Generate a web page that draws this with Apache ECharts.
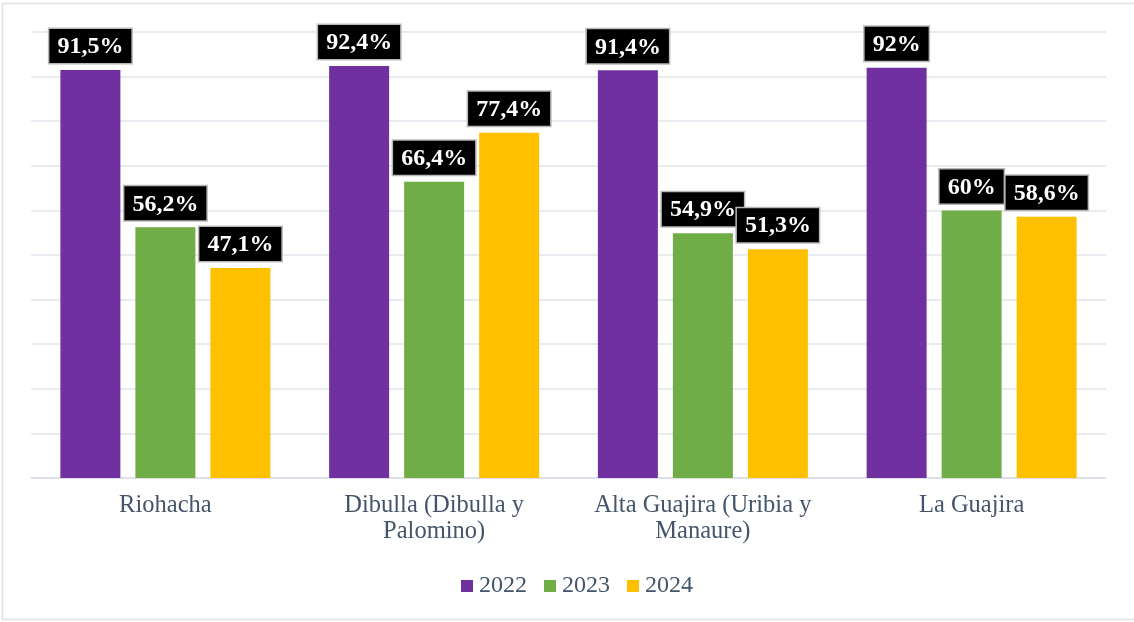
<!DOCTYPE html>
<html>
<head>
<meta charset="utf-8">
<script src="https://cdn.jsdelivr.net/npm/echarts@6/dist/echarts.min.js"></script>
<style>
  html, body { margin: 0; padding: 0; background: #ffffff; }
  #chart { width: 1134px; height: 622px; }
</style>
</head>
<body>
<div id="chart"></div>
<script>
// Municipalities (x-axis categories)
const categories = [
  'Riohacha',
  'Dibulla (Dibulla y\nPalomino)',
  'Alta Guajira (Uribia y\nManaure)',
  'La Guajira'
];
// Yearly percentages per municipality
const years = ['2022', '2023', '2024'];
const values2022 = [91.5, 92.4, 91.4, 92];
const values2023 = [56.2, 66.4, 54.9, 60];
const values2024 = [47.1, 77.4, 51.3, 58.6];
const colors = ['#7030a0', '#70ad47', '#ffc000'];

const serif = '"Liberation Serif", "Times New Roman", serif';
const textColor = '#44546a';

function fmt(v) {
  return String(v).replace('.', ',') + '%';
}

const seriesData = [values2022, values2023, values2024];

const chart = echarts.init(document.getElementById('chart'));
chart.setOption({
  animation: false,
  backgroundColor: '#ffffff',
  graphic: [{
    type: 'rect',
    shape: { x: 2.5, y: 3.5, width: 1140, height: 616 },
    style: { fill: 'none', stroke: '#dde2e9', lineWidth: 1.5 },
    silent: true,
    z: -1
  }],
  grid: { left: 31, right: 28, top: 32, bottom: 144 },
  legend: {
    data: years,
    top: 569,
    left: 456,
    itemWidth: 12,
    itemHeight: 12,
    itemGap: 17,
    icon: 'rect',
    textStyle: { fontFamily: serif, fontSize: 24, color: textColor, padding: [0, 0, 0, 1] }
  },
  xAxis: {
    type: 'category',
    data: categories,
    axisTick: { show: false },
    axisLine: { lineStyle: { color: '#d9dee5', width: 1.5 } },
    axisLabel: {
      interval: 0,
      hideOverlap: false,
      fontFamily: serif,
      fontSize: 24.5,
      color: textColor,
      lineHeight: 26,
      margin: 15
    }
  },
  yAxis: {
    type: 'value',
    min: 0,
    max: 100,
    interval: 10,
    axisLabel: { show: false },
    axisLine: { show: false },
    axisTick: { show: false },
    splitLine: { lineStyle: { color: '#e1e5ea', width: 1.5 } }
  },
  series: years.map((y, i) => ({
    name: y,
    type: 'bar',
    data: seriesData[i],
    barWidth: 60,
    barGap: '25%',
    itemStyle: { color: colors[i] },
    label: {
      show: true,
      position: 'top',
      distance: 7,
      formatter: p => fmt(p.value),
      fontFamily: serif,
      fontWeight: 'bold',
      fontSize: 24,
      lineHeight: 24,
      color: '#ffffff',
      backgroundColor: '#000000',
      borderColor: '#b8b8b8',
      borderWidth: 1.5,
      padding: [6, 8, 4, 8]
    }
  }))
});
</script>
</body>
</html>
